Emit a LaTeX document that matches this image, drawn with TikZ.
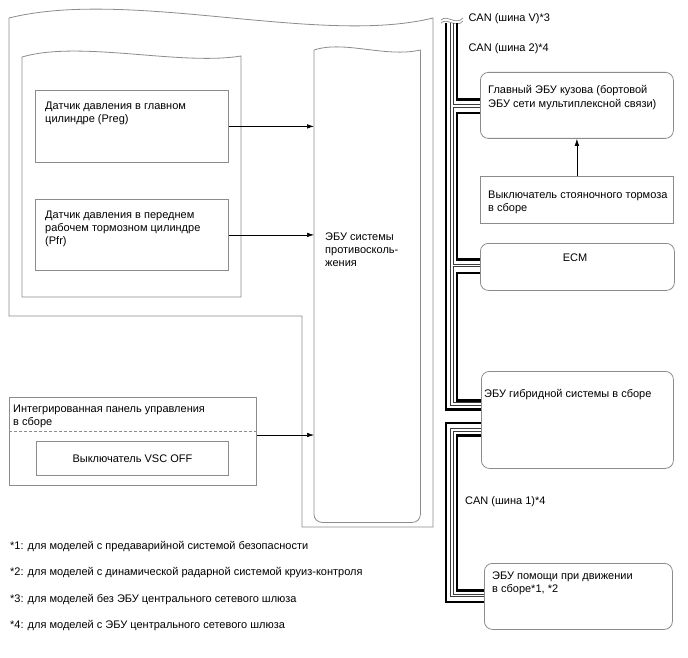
\documentclass[tikz,border=0pt]{standalone}
\usepackage{fontspec}
\setmainfont{Liberation Sans}
\usetikzlibrary{arrows.meta,calc}
\definecolor{bgray}{RGB}{140,140,140}
\definecolor{busthin}{RGB}{60,60,60}
\newcommand\mlt[1]{\vtop{#1}}
\begin{document}
\begin{tikzpicture}[x=1pt,y=-1pt,
  frame/.style={draw=bgray, line width=0.8pt},
  sq/.style={frame, rectangle, inner sep=0pt, anchor=north west},
  rnd/.style={sq, rounded corners=8pt},
  txt/.style={inner sep=0pt, anchor=base west, font=\fontsize{11}{13.4}\selectfont},
  arr/.style={draw=black, line width=0.6pt, -{Latex[length=7pt,width=4.5pt]}},
  thickbus/.style={line width=2.4pt, black, line join=miter},
  thinbus/.style={line width=0.6pt, busthin}]
\useasboundingbox[fill=white] (0,0) rectangle (688,658);
\def\xA{446.2}\def\xB{450.2}\def\xC{452.8}\def\xD{456.8}

% outer frame
\draw[frame] (9,18) .. controls (130,-12) and (320,46) .. (433,18)
  -- (433,527) -- (302,527) -- (302,316) -- (9,316) -- cycle;
% inner frame
\draw[frame] (22,57) .. controls (80,40) and (180,66) .. (241,56)
  -- (241,297) -- (22,297) -- cycle;

% sensors
\node[sq, minimum width=193pt, minimum height=72pt] (s1) at (35,90) {};
\node[sq, minimum width=193pt, minimum height=71pt] (s2) at (35,199) {};
\node[txt] (ts1) at (45,109.5) {\mlt{\hbox{Датчик давления в главном}\hbox{цилиндре (Preg)}}};
\node[txt] (ts2) at (45,218) {\mlt{\hbox{Датчик давления в переднем}\hbox{рабочем тормозном цилиндре}\hbox{(Pfr)}}};

% ECU (wavy top)
\node[rectangle, inner sep=0pt, anchor=north west, minimum width=106pt, minimum height=472pt] (ecu) at (314,50) {};
\draw[frame, rounded corners=8pt] (ecu.north east) -- (ecu.south east) -- (ecu.south west) -- (ecu.north west);
\draw[frame] (ecu.north west) .. controls (345,40) and (385,58) .. (ecu.north east);
\node[txt] (tecu) at (325,240) {\mlt{\hbox{ЭБУ системы}\hbox{противосколь-}\hbox{жения}}};

% integrated panel
\node[sq, minimum width=247pt, minimum height=88pt] (panel) at (9,397) {};
\draw[bgray, line width=0.8pt, dash pattern=on 3pt off 2pt] (panel.west |- 0,431) -- (panel.east |- 0,431);
\node[txt] (tpanel) at (13,412) {\mlt{\hbox{Интегрированная панель управления}\hbox{в сборе}}};
\node[sq, minimum width=192pt, minimum height=34pt] (vsc) at (36,441) {};
\node[inner sep=0pt, font=\fontsize{11}{13.4}\selectfont] (tvsc) at (vsc.center) {Выключатель VSC OFF};

% arrows to ECU
\draw[arr] (s1.east) -- (s1.east -| ecu.west);
\draw[arr] (s2.east) -- (s2.east -| ecu.west);
\draw[arr] (panel.east |- 0,435) -- (ecu.west |- 0,435);

% right column
\node[rnd, minimum width=193pt, minimum height=66pt] (body) at (480,72) {};
\node[txt] (tbody) at (488,94) {\mlt{\hbox{Главный ЭБУ кузова (бортовой}\hbox{ЭБУ сети мультиплексной связи)}}};
\node[sq, minimum width=193pt, minimum height=47pt] (park) at (480,176) {};
\node[txt] (tpark) at (488,198) {\mlt{\hbox{Выключатель стояночного тормоза}\hbox{в сборе}}};
\draw[arr] (park.north) -- (body.south);
\node[rnd, minimum width=194pt, minimum height=47pt] (ecm) at (480,243) {};
\node[inner sep=0pt, anchor=base, font=\fontsize{11}{13.4}\selectfont] (tecm) at (575,261) {ECM};
\node[rnd, minimum width=192pt, minimum height=97pt] (hyb) at (481,371) {};
\node[txt] (thyb) at (484,397.5) {ЭБУ гибридной системы в сборе};
\node[rnd, minimum width=188pt, minimum height=66pt] (drv) at (484,563) {};
\node[txt] (tdrv) at (492,579) {\mlt{\hbox{ЭБУ помощи при движении}\hbox{в сборе*1, *2}}};

% bus labels
\node[txt] (lv) at (468.3,22) {CAN (шина V)*3};
\node[txt] (l2) at (468.3,52) {CAN (шина 2)*4};
\node[txt] (l1) at (465,504) {CAN (шина 1)*4};

% bus segment 1
\draw[bgray, line width=0.7pt] (441,20) .. controls (447,14) and (456,26) .. (463,18);
\draw[bgray, line width=0.7pt] (441,23) .. controls (447,17) and (456,29) .. (463,21);
\draw[thickbus] (\xA,23) |- (hyb.west |- 0,409.5);
\draw[thinbus] (\xB,23) |- (hyb.west |- 0,405);
\draw[thinbus] (\xC,23) |- (body.west |- 0,104);
\draw[thinbus] (body.west |- 0,107.3) -| (\xC,264) -- (ecm.west |- 0,264);
\draw[thinbus] (ecm.west |- 0,266.7) -| (\xC,402.7) -- (hyb.west |- 0,402.7);
\draw[thickbus] (\xD,23) |- (body.west |- 0,99.5);
\draw[thickbus] (body.west |- 0,112.8) -| (\xD,259.5) -- (ecm.west |- 0,259.5);
\draw[thickbus] (ecm.west |- 0,272.8) -| (\xD,400.5) -- (hyb.west |- 0,400.5);

% bus segment 2
\draw[thickbus] (hyb.west |- 0,423) -| (\xA,601.8) -- (drv.west |- 0,601.8);
\draw[thinbus] (hyb.west |- 0,428.3) -| (\xB,596.7) -- (drv.west |- 0,596.7);
\draw[thinbus] (hyb.west |- 0,431) -| (\xC,594.3) -- (drv.west |- 0,594.3);
\draw[thickbus] (hyb.west |- 0,435.3) -| (\xD,590.5) -- (drv.west |- 0,590.5);

% footnotes
\node[txt] (f1) at (10,549) {*1: для моделей с предаварийной системой безопасности};
\node[txt] (f2) at (10,575.5) {*2: для моделей с динамической радарной системой круиз-контроля};
\node[txt] (f3) at (10,602) {*3: для моделей без ЭБУ центрального сетевого шлюза};
\node[txt] (f4) at (10,628) {*4: для моделей с ЭБУ центрального сетевого шлюза};
\end{tikzpicture}
\end{document}
